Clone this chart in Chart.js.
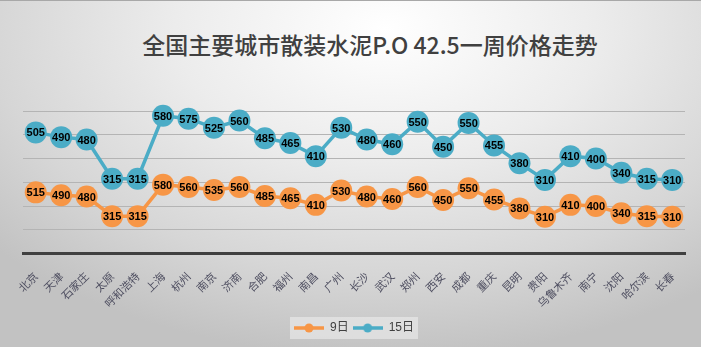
<!DOCTYPE html>
<html>
<head>
<meta charset="utf-8">
<script src="https://cdn.jsdelivr.net/npm/chart.js@4/dist/chart.umd.min.js"></script>
<style>
  html, body { margin: 0; padding: 0; }
  #wrap {
    position: relative; width: 701px; height: 347px; box-sizing: border-box;
    border-top: 1px solid #a8a8a8;
    background: radial-gradient(ellipse 75% 95% at 55% 8%, #ffffff 0%, #ececec 40%, #d6d6d6 75%, #c2c2c2 100%);
  }
  #title {
    position: absolute; left: 0; width: 740px; top: 26px; text-align: center;
    font-family: "Noto Sans CJK SC", sans-serif; font-size: 23px; font-weight: 500; color: #404040;
  }
  canvas { position: absolute; left: 0; top: 0; }
</style>
</head>
<body>
<div id="wrap">
  <div id="title">全国主要城市散装水泥P.O 42.5一周价格走势</div>
  <canvas id="c" width="701" height="347"></canvas>
</div>
<script>
// ---- data ----
const cities = ['北京','天津','石家庄','太原','呼和浩特','上海','杭州','南京','济南','合肥','福州','南昌','广州',
  '长沙','武汉','郑州','西安','成都','重庆','昆明','贵阳','乌鲁木齐','南宁','沈阳','哈尔滨','长春'];
const day9 = [515, 490, 480, 315, 315, 580, 560, 535, 560, 485, 465, 410, 530,
  480, 460, 560, 450, 550, 455, 380, 310, 410, 400, 340, 315, 310];
const day15 = [505, 490, 480, 315, 315, 580, 575, 525, 560, 485, 465, 410, 530,
  480, 460, 550, 450, 550, 455, 380, 310, 410, 400, 340, 315, 310];
const seriesNames = ['9日', '15日'];
const yMax = 1200, yStep = 200;

const ORANGE = '#F79646', BLUE = '#4BACC6';

// little "line with a dot" swatch for the legend
function legendSwatch(color) {
  const c = document.createElement('canvas');
  c.width = 30; c.height = 10;
  const g = c.getContext('2d');
  g.strokeStyle = color; g.lineWidth = 3.5;
  g.beginPath(); g.moveTo(0, 5); g.lineTo(30, 5); g.stroke();
  g.fillStyle = color;
  g.beginPath(); g.arc(15, 5, 4.5, 0, Math.PI * 2); g.fill();
  return c;
}

const valueLabels = {
  id: 'valueLabels',
  afterDatasetsDraw(chart) {
    const ctx = chart.ctx;
    ctx.save();
    ctx.font = 'bold 11px "Liberation Sans", sans-serif';
    ctx.fillStyle = '#000';
    ctx.textAlign = 'center';
    ctx.textBaseline = 'middle';
    chart.data.datasets.forEach((ds, i) => {
      chart.getDatasetMeta(i).data.forEach((pt, j) => {
        ctx.fillText(ds.data[j], pt.x, pt.y + 1);
      });
    });
    ctx.restore();
  }
};

const legendBack = {
  id: 'legendBack',
  beforeDraw(chart) {
    const boxes = chart.legend && chart.legend.legendHitBoxes;
    if (!boxes || !boxes.length) return;
    const l = Math.min(...boxes.map(b => b.left)) - 4;
    const r = Math.max(...boxes.map(b => b.left + b.width)) + 4;
    const t = Math.min(...boxes.map(b => b.top)) - 5;
    const b = Math.max(...boxes.map(b => b.top + b.height)) + 5;
    const ctx = chart.ctx;
    ctx.save();
    ctx.fillStyle = 'rgba(240,240,240,0.55)';
    ctx.fillRect(l, t, r - l, b - t);
    ctx.restore();
  }
};

new Chart(document.getElementById('c'), {
  type: 'line',
  data: {
    labels: cities,
    datasets: [
      { label: seriesNames[0], data: day9, borderColor: ORANGE, backgroundColor: ORANGE,
        borderWidth: 3.5, pointRadius: 11, pointBorderWidth: 0, pointBackgroundColor: ORANGE, clip: false },
      { label: seriesNames[1], data: day15, borderColor: BLUE, backgroundColor: BLUE,
        borderWidth: 3.5, pointRadius: 11, pointBorderWidth: 0, pointBackgroundColor: BLUE, clip: false }
    ]
  },
  options: {
    responsive: false, animation: false,
    layout: { padding: { top: 110, left: 23, right: 16, bottom: 4 } },
    plugins: {
      tooltip: { enabled: false },
      legend: {
        position: 'bottom',
        labels: {
          usePointStyle: true, pointStyleWidth: 30, padding: 4,
          color: '#404040', font: { family: '"Liberation Sans", "Noto Sans CJK SC", sans-serif', size: 12 },
          generateLabels(chart) {
            const items = Chart.defaults.plugins.legend.labels.generateLabels(chart);
            items.forEach((it, i) => { it.pointStyle = legendSwatch(i === 0 ? ORANGE : BLUE); });
            return items;
          }
        }
      }
    },
    scales: {
      x: {
        offset: true,
        grid: { display: false },
        border: { color: '#404040', width: 3 },
        ticks: {
          autoSkip: false, minRotation: 45, maxRotation: 45, padding: 8,
          color: '#4e4e60', font: { family: '"Noto Sans CJK SC", sans-serif', size: 11 }
        }
      },
      y: {
        stacked: true, min: 0, max: yMax,
        ticks: { display: false, stepSize: yStep },
        border: { display: false },
        grid: { color: '#b4b4b4', drawTicks: false }
      }
    }
  },
  plugins: [legendBack, valueLabels]
});
</script>
</body>
</html>
